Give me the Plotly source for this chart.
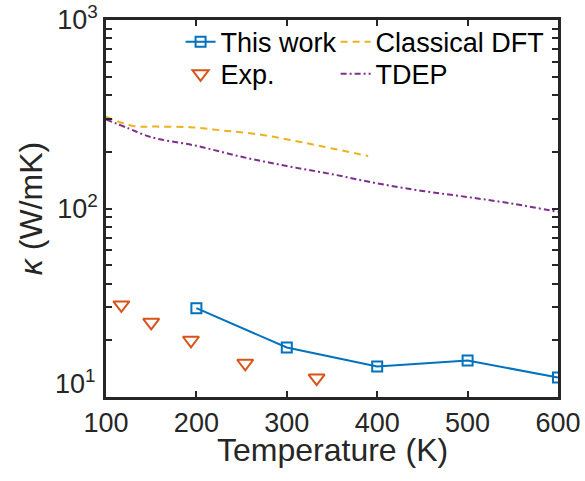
import plotly.graph_objects as go

# Data
T_work = [200, 300, 400, 500, 600]
k_work = [29.6, 18.3, 14.5, 15.6, 12.7]

T_exp = [117, 150, 194, 254, 333]
k_exp = [30.8, 24.9, 20.0, 15.1, 12.6]

T_dft = [100, 130, 156, 193, 230, 267, 304, 340, 390]
k_dft = [307, 274, 272, 270, 259, 248, 231, 213, 190]

T_tdep = [100, 125, 150, 200, 250, 300, 350, 400, 450, 500, 550, 600]
k_tdep = [297, 266, 239, 215, 188, 168, 152, 136, 124, 115, 106, 96]

y_tickvals = [10, 100, 1000]
y_ticktext = ["", "10<sup>2</sup>", "10<sup>3</sup>"]
y_low_label = "10<sup>1</sup>"
x_tickvals = [100, 200, 300, 400, 500, 600]
x_title = "Temperature (K)"
y_title = "<i>κ</i> (W/mK)"

minor_y = [v * m for v in (10, 100) for m in range(2, 10)]

BLUE = "#0072BD"
ORANGE = "#D95319"
YELLOW = "#EDB120"
PURPLE = "#7E2F8E"
AXC = "#262626"
FONT = "Liberation Sans, Arial, sans-serif"
FS = 27

fig = go.Figure()
fig.add_trace(go.Scatter(x=T_work, y=k_work, name="This work", mode="lines+markers",
                         legend="legend",
                         line=dict(color=BLUE, width=2),
                         marker=dict(symbol="square-open", size=10, color=BLUE,
                                     line=dict(width=2, color=BLUE))))
fig.add_trace(go.Scatter(x=T_dft, y=k_dft, name="Classical DFT", mode="lines",
                         legend="legend2",
                         line=dict(color=YELLOW, width=2, dash="7px,5px", shape="spline")))
fig.add_trace(go.Scatter(x=T_exp, y=k_exp, name="Exp.", mode="markers",
                         legend="legend3",
                         marker=dict(symbol="triangle-down-open", size=14, color=ORANGE,
                                     line=dict(width=2, color=ORANGE))))
fig.add_trace(go.Scatter(x=T_tdep, y=k_tdep, name="TDEP", mode="lines",
                         legend="legend4",
                         line=dict(color=PURPLE, width=2, dash="6px,3px,2px,3px", shape="spline")))

def leg(x, y):
    return dict(x=x, y=y, xanchor="left", yanchor="top", bgcolor="rgba(0,0,0,0)",
                font=dict(size=FS, color="black"), itemsizing="trace")

fig.update_layout(
    width=585, height=481,
    margin=dict(l=106, r=27, t=20, b=84),
    paper_bgcolor="white", plot_bgcolor="white",
    font=dict(family=FONT, size=FS, color=AXC),
    showlegend=True,
    legend=leg(0.165, 1.006),
    legend2=leg(0.508, 1.006),
    legend3=leg(0.165, 0.921),
    legend4=leg(0.508, 0.921),
    xaxis=dict(range=[100, 600], tickvals=x_tickvals, ticks="inside", ticklen=6,
               tickwidth=2, tickcolor=AXC, showline=True, linecolor=AXC, linewidth=2.5,
               mirror="ticks", showgrid=False, zeroline=False, automargin=False,
               tickfont=dict(size=FS, color=AXC)),
    yaxis=dict(type="log", range=[1, 3], tickvals=y_tickvals, ticktext=y_ticktext,
               ticks="inside", ticklen=6, tickwidth=2, tickcolor=AXC, showline=True,
               linecolor=AXC, linewidth=2.5, mirror="ticks", showgrid=False, zeroline=False,
               automargin=False,
               minor=dict(tickvals=minor_y, ticks="inside", ticklen=6, tickwidth=2,
                          tickcolor=AXC, showgrid=False),
               title=dict(text=y_title, standoff=6, font=dict(size=32, color=AXC)),
               tickfont=dict(size=FS, color=AXC)),
)

fig.add_annotation(x=0, xref="paper", xanchor="right", xshift=-8,
                   y=1, yref="y", yanchor="bottom", yshift=-4,
                   text=y_low_label, showarrow=False,
                   font=dict(family=FONT, size=FS, color=AXC))
fig.add_annotation(x=0.5, xref="paper", xanchor="center",
                   y=0, yref="paper", yanchor="middle", yshift=-53,
                   text=x_title, showarrow=False,
                   font=dict(family=FONT, size=32, color=AXC))

fig.write_html("out.html")
